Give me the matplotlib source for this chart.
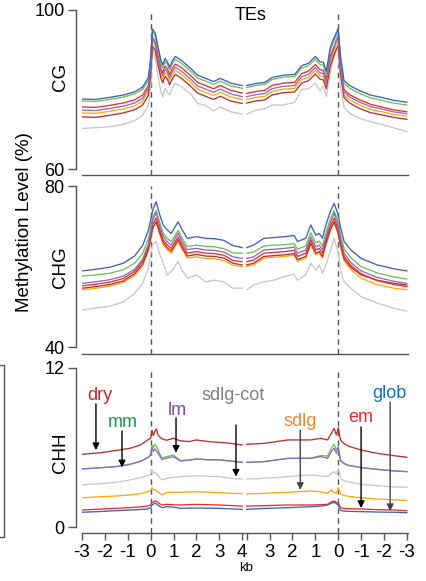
import numpy as np
import matplotlib.pyplot as plt
from matplotlib.lines import Line2D

plt.rcParams['font.family'] = ['Liberation Sans', 'DejaVu Sans']

# x positions: left block = upstream flank (-3..0) + TE body from 5' end (0..4),
# right block (shifted) = TE body towards 3' end (4..0) + downstream flank (0..-3)
cg_pos_a = [-3, -2.4, -1.8, -1.2, -0.7, -0.35, -0.1, 0.0, 0.08, 0.2, 0.35, 0.45, 0.53,
            0.63, 0.73, 0.83, 0.95, 1.08, 1.35, 1.75, 2.05, 2.4, 2.75, 3.05, 3.5, 4.0]
cg_pos_b = [4.2, 4.6, 5.0, 5.3, 5.8, 6.3, 6.6, 6.9, 7.2, 7.4, 7.55, 7.68, 7.85, 8.0,
            8.12, 8.2, 8.3, 8.45, 8.7, 9.1, 9.6, 10.1, 10.6, 11.2]

cg_glob = [77.6, 77.5, 78.0, 78.6, 79.4, 80.6, 83.0, 87.8, 95.2, 94.2, 90.0, 87.3, 86.2,
           87.8, 87.0, 85.6, 87.2, 88.3, 87.3, 85.3, 83.6, 82.8, 82.0, 82.8, 81.6, 81.0,
           81.0, 81.5, 81.8, 83.0, 83.6, 83.8, 86.0, 86.6, 88.3, 87.0, 86.8, 84.6, 90.5,
           92.8, 94.3, 95.4, 88.5, 82.3, 81.0, 79.8, 78.6, 78.0, 77.3, 76.8]
cg_mm = [77.1, 77.0, 77.5, 78.1, 78.9, 80.0, 82.3, 87.0, 94.6, 93.5, 89.3, 86.5, 85.4,
         87.0, 86.3, 84.9, 86.5, 87.6, 86.6, 84.6, 82.9, 82.1, 81.3, 82.1, 80.9, 80.3,
         80.5, 81.0, 81.3, 82.5, 83.1, 83.3, 85.4, 86.0, 87.6, 86.3, 86.1, 83.9, 89.8,
         92.1, 93.6, 94.7, 87.8, 81.6, 80.3, 79.1, 77.9, 77.3, 76.6, 76.1]
cg_em = [75.6, 75.5, 76.0, 76.6, 77.4, 78.6, 81.0, 85.8, 92.8, 92.0, 88.0, 85.3, 84.2,
         85.9, 85.2, 83.8, 85.3, 86.4, 85.5, 83.5, 81.8, 81.0, 80.2, 81.0, 79.8, 79.1,
         79.0, 79.5, 79.8, 81.0, 81.6, 81.8, 84.0, 84.6, 86.3, 85.0, 84.8, 82.6, 88.3,
         90.6, 92.2, 93.0, 86.3, 80.0, 78.7, 77.5, 76.3, 75.6, 74.9, 74.4]
cg_lm = [74.8, 74.7, 75.2, 75.8, 76.6, 77.8, 80.3, 85.5, 93.3, 91.8, 87.4, 84.6, 83.5,
         85.1, 84.4, 83.0, 84.5, 85.6, 84.6, 82.6, 80.9, 80.1, 79.3, 80.1, 78.9, 78.2,
         78.2, 78.7, 79.0, 80.2, 80.8, 81.0, 83.2, 83.8, 85.5, 84.2, 84.0, 81.8, 87.7,
         90.2, 92.5, 93.5, 85.6, 79.4, 78.1, 76.9, 75.7, 75.1, 74.4, 73.9]
cg_sdlg = [74.1, 74.0, 74.5, 75.1, 75.9, 77.1, 79.5, 84.6, 92.2, 91.0, 86.6, 83.8, 82.7,
           84.3, 83.6, 82.2, 83.7, 84.8, 83.8, 81.8, 80.1, 79.3, 78.5, 79.3, 78.1, 77.5,
           77.5, 78.0, 78.3, 79.5, 80.1, 80.3, 82.5, 83.1, 84.8, 83.5, 83.3, 81.1, 87.0,
           89.5, 91.3, 92.2, 84.8, 78.6, 77.4, 76.2, 75.0, 74.4, 73.8, 73.3]
cg_dry = [73.1, 73.0, 73.5, 74.1, 74.9, 76.1, 78.5, 83.5, 91.0, 89.8, 85.5, 82.8, 81.7,
          83.3, 82.6, 81.2, 82.7, 83.8, 82.8, 80.8, 79.1, 78.3, 77.5, 78.3, 77.1, 76.5,
          76.6, 77.1, 77.4, 78.6, 79.2, 79.4, 81.6, 82.2, 83.9, 82.6, 82.4, 80.2, 85.8,
          88.4, 90.2, 91.0, 84.0, 78.0, 76.6, 75.3, 74.2, 73.6, 73.0, 72.5]
cg_cot = [70.2, 70.4, 70.6, 71.2, 72.2, 73.5, 76.0, 80.0, 90.5, 88.0, 82.5, 79.5, 78.2,
          80.3, 79.4, 78.6, 80.5, 81.6, 80.7, 78.9, 76.5, 76.0, 74.6, 75.6, 74.4, 73.8,
          73.8, 74.8, 75.2, 76.1, 76.1, 76.8, 80.0, 80.2, 81.6, 79.6, 80.9, 78.2, 84.0,
          88.0, 89.8, 90.4, 80.5, 75.5, 74.0, 72.8, 71.9, 71.2, 70.4, 69.4]

chg_pos_a = [-3, -2.4, -1.8, -1.2, -0.7, -0.35, -0.1, 0.0, 0.09, 0.24, 0.4, 0.55, 0.72,
             0.9, 1.2, 1.38, 1.6, 2.0, 2.4, 2.8, 3.2, 3.6, 4.0]
chg_pos_b = [4.2, 4.5, 4.95, 5.4, 5.85, 6.27, 6.42, 6.78, 7.0, 7.22, 7.37, 7.51, 7.66,
             7.85, 8.02, 8.2, 8.31, 8.46, 8.75, 9.2, 9.9, 10.65, 11.2]

chg_glob = [58.9, 59.3, 59.8, 60.8, 62.6, 65.2, 69.0, 71.5, 74.0, 76.1, 72.8, 70.3, 69.1,
            68.2, 71.1, 69.1, 67.0, 67.4, 67.0, 66.9, 66.5, 65.2, 64.7,
            64.7, 65.3, 67.0, 67.2, 67.4, 67.7, 66.2, 67.0, 70.3, 67.8, 68.2, 67.0, 70.3,
            73.6, 75.7, 72.8, 69.5, 66.2, 64.1, 62.0, 60.4, 59.4, 58.9]
chg_mm = [57.6, 57.9, 58.3, 59.2, 60.8, 63.2, 66.9, 69.6, 72.3, 74.0, 70.9, 68.3, 67.0,
          66.2, 69.0, 67.0, 65.0, 65.3, 65.0, 64.9, 64.4, 63.4, 63.3,
          63.3, 63.6, 65.1, 65.3, 65.4, 65.7, 64.3, 65.1, 68.4, 65.9, 66.3, 65.1, 68.3,
          71.8, 73.9, 71.0, 67.7, 64.4, 62.2, 60.0, 58.4, 57.4, 56.9]
chg_lm = [55.8, 56.2, 56.7, 57.6, 59.3, 61.8, 65.5, 68.5, 71.5, 73.4, 70.0, 67.5, 66.2,
          65.3, 68.3, 66.2, 64.2, 64.5, 64.1, 64.0, 63.6, 62.4, 62.0,
          62.0, 62.4, 64.1, 64.3, 64.5, 64.8, 63.3, 64.1, 67.4, 64.9, 65.3, 64.1, 67.3,
          70.8, 73.2, 70.0, 66.6, 63.3, 61.0, 58.9, 57.3, 56.3, 55.8]
chg_em = [55.2, 55.6, 56.1, 57.0, 58.8, 61.3, 65.0, 67.8, 70.5, 72.0, 69.2, 66.6, 65.4,
          64.5, 67.4, 65.4, 63.3, 63.7, 63.3, 63.2, 62.8, 61.5, 61.2,
          61.2, 61.6, 63.3, 63.5, 63.7, 64.0, 62.5, 63.3, 66.6, 64.1, 64.5, 63.3, 66.5,
          69.9, 72.0, 69.1, 65.8, 62.5, 60.3, 58.2, 56.5, 55.5, 55.0]
chg_dry = [54.6, 55.0, 55.5, 56.4, 58.2, 60.6, 64.3, 67.0, 69.6, 71.1, 68.4, 65.9, 64.7,
           63.8, 66.7, 64.7, 62.6, 63.0, 62.6, 62.5, 62.1, 60.8, 60.4,
           60.4, 60.8, 62.5, 62.7, 62.9, 63.2, 61.7, 62.5, 65.8, 63.3, 63.7, 62.5, 65.7,
           69.1, 71.1, 68.3, 65.0, 61.9, 59.8, 57.9, 56.6, 55.8, 55.4]
chg_sdlg = [54.2, 54.6, 55.1, 56.0, 57.8, 60.2, 63.8, 66.6, 69.4, 71.1, 68.0, 65.4, 64.2,
            63.3, 66.2, 64.2, 62.1, 62.4, 62.0, 61.9, 61.5, 60.3, 60.0,
            60.0, 60.4, 62.1, 62.3, 62.5, 62.8, 61.3, 62.1, 65.4, 62.9, 63.3, 62.1, 65.3,
            68.8, 71.0, 68.0, 64.6, 61.4, 59.2, 57.1, 55.5, 54.6, 54.2]
chg_cot = [49.2, 49.7, 50.1, 51.2, 53.3, 55.8, 59.5, 62.9, 65.5, 66.2, 63.0, 60.8, 57.9,
           58.7, 61.2, 59.1, 57.1, 57.9, 56.2, 56.6, 56.2, 54.6, 54.6,
           54.2, 55.4, 56.2, 56.6, 57.5, 58.1, 56.6, 57.9, 60.8, 59.1, 60.4, 58.3, 60.4,
           63.7, 67.0, 63.3, 58.7, 56.2, 54.6, 52.5, 50.9, 49.6, 48.9]

chh_pos_a = [-3, -2.2, -1.5, -0.9, -0.45, -0.15, 0.0, 0.06, 0.12, 0.18, 0.25, 0.32, 0.4,
             0.5, 0.7, 1.0, 1.3, 1.7, 2.0, 2.5, 3.0, 3.5, 4.0]
chh_pos_b = [4.2, 4.95, 6.0, 7.0, 7.45, 7.73, 7.9, 8.02, 8.12, 8.2, 8.3, 8.45, 8.65,
             9.2, 9.9, 10.65, 11.2]

chh_dry = [5.49, 5.60, 5.78, 5.94, 6.19, 6.55, 6.70, 7.30, 6.90, 7.20, 7.40, 6.95, 6.80,
           6.65, 6.55, 6.70, 6.50, 6.45, 6.57, 6.45, 6.39, 6.31, 6.19,
           6.24, 6.31, 6.57, 6.57, 6.69, 6.57, 7.07, 7.45, 6.94, 7.50, 6.57, 6.30, 6.10,
           5.81, 5.56, 5.38, 5.26]
chh_lm = [4.38, 4.47, 4.56, 4.73, 4.95, 5.20, 5.40, 6.00, 5.70, 5.90, 5.75, 5.60, 5.35,
          5.08, 5.20, 5.30, 4.98, 5.05, 5.13, 5.08, 5.06, 4.98, 4.88,
          4.88, 4.93, 5.18, 5.18, 5.31, 5.18, 5.68, 5.94, 5.56, 6.00, 5.00, 4.80, 4.65,
          4.48, 4.35, 4.23, 4.18]
chh_mm = [4.38, 4.47, 4.56, 4.73, 4.95, 5.20, 5.45, 6.20, 6.00, 6.25, 6.10, 5.85, 5.50,
          5.20, 5.32, 5.42, 5.02, 5.05, 5.13, 5.08, 5.06, 4.98, 4.88,
          4.88, 4.93, 5.18, 5.20, 5.40, 5.35, 5.95, 6.24, 5.80, 6.10, 5.05, 4.80, 4.65,
          4.48, 4.35, 4.23, 4.18]
chh_cot = [3.17, 3.27, 3.37, 3.55, 3.72, 3.87, 3.95, 4.30, 4.05, 4.15, 4.00, 3.90, 3.70,
           3.55, 3.67, 3.75, 3.80, 3.83, 3.87, 3.83, 3.80, 3.67, 3.62,
           3.62, 3.67, 3.80, 3.92, 3.85, 3.80, 4.05, 4.18, 4.00, 4.43, 3.67, 3.50, 3.40,
           3.22, 3.12, 3.02, 3.00]
chh_sdlg = [2.21, 2.28, 2.34, 2.42, 2.52, 2.66, 2.75, 2.97, 2.80, 2.85, 2.72, 2.66, 2.55,
            2.42, 2.60, 2.63, 2.62, 2.64, 2.66, 2.63, 2.60, 2.54, 2.52,
            2.49, 2.54, 2.62, 2.72, 2.65, 2.54, 2.79, 2.60, 2.54, 2.97, 2.50, 2.38, 2.32,
            2.21, 2.11, 2.06, 1.99]
chh_em = [1.28, 1.35, 1.41, 1.46, 1.52, 1.58, 1.65, 1.83, 1.90, 1.96, 1.94, 1.85, 1.75,
          1.66, 1.71, 1.68, 1.66, 1.69, 1.71, 1.68, 1.66, 1.62, 1.58,
          1.58, 1.61, 1.66, 1.66, 1.69, 1.71, 1.90, 1.96, 1.85, 1.79, 1.45, 1.40, 1.38,
          1.36, 1.31, 1.28, 1.23]
chh_glob = [1.11, 1.17, 1.23, 1.28, 1.32, 1.36, 1.45, 1.66, 1.72, 1.79, 1.75, 1.65, 1.55,
            1.46, 1.53, 1.50, 1.41, 1.42, 1.43, 1.42, 1.41, 1.37, 1.33,
            1.33, 1.40, 1.46, 1.53, 1.58, 1.66, 1.80, 1.86, 1.75, 1.66, 1.25, 1.20, 1.18,
            1.16, 1.13, 1.11, 1.08]

tick_pos = [-3, -2, -1, 0, 1, 2, 3, 4, 4.2, 5.2, 6.2, 7.2, 8.2, 9.2, 10.2, 11.2]
tick_lab = ['-3', '-2', '-1', '0', '1', '2', '3', '4', '', '3', '2', '1', '0', '-1', '-2', '-3']
tss_pos = [0, 8.2]

line_col = {'cot': '#c8c8c8', 'sdlg': '#ffa812', 'dry': '#b8312f', 'em': '#e8302e',
            'mm': '#6fc155', 'lm': '#8e6cc0', 'glob': '#3f62b4'}
order = ['cot', 'sdlg', 'dry', 'em', 'mm', 'lm', 'glob']

panels = [
    ('CG', cg_pos_a, cg_pos_b, {'glob': cg_glob, 'mm': cg_mm, 'em': cg_em, 'lm': cg_lm,
                                'sdlg': cg_sdlg, 'dry': cg_dry, 'cot': cg_cot}, (60, 100)),
    ('CHG', chg_pos_a, chg_pos_b, {'glob': chg_glob, 'mm': chg_mm, 'em': chg_em, 'lm': chg_lm,
                                   'sdlg': chg_sdlg, 'dry': chg_dry, 'cot': chg_cot}, (40, 80)),
    ('CHH', chh_pos_a, chh_pos_b, {'glob': chh_glob, 'mm': chh_mm, 'em': chh_em, 'lm': chh_lm,
                                   'sdlg': chh_sdlg, 'dry': chh_dry, 'cot': chh_cot}, (0, 12)),
]

W, H = 426, 581
fig = plt.figure(figsize=(W / 100, H / 100), dpi=100)

# (top px, bottom px, px below the lowest tick)
boxes = [(10, 175, 6), (186, 354, 7), (368, 533, 6)]
axes = []
for (name, xa, xb, series, (lo, hi)), (top, bot, pad) in zip(panels, boxes):
    ax = fig.add_axes([82 / W, 1 - bot / H, 326 / W, (bot - top) / H])
    n = len(xa)
    for key in order:
        y = series[key]
        ax.plot(xa, y[:n], color=line_col[key], lw=0.95)
        ax.plot(xb, y[n:], color=line_col[key], lw=0.95)
    for t in tss_pos:
        ax.axvline(t, color='#555555', lw=1.0, ls=(0, (4, 3)), zorder=0)
    span = hi - lo
    ax.set_ylim(lo - span * pad / (bot - top - pad), hi)
    ax.set_xlim(-3.0, 11.25)
    for s in ['top', 'right']:
        ax.spines[s].set_visible(False)
    ax.spines['left'].set_position(('outward', 4.5))
    ax.spines['left'].set_bounds(lo, hi)
    for s in ['left', 'bottom']:
        ax.spines[s].set_color('#555555')
        ax.spines[s].set_linewidth(1.0)
    ax.set_yticks([lo, hi])
    ax.tick_params(axis='y', direction='out', length=6, width=1.0, color='#555555',
                   labelsize=13, pad=2)
    ax.tick_params(axis='x', direction='out', length=5, width=1.0, color='#555555',
                   labelsize=13.5, pad=3)
    ax.set_xticks(tick_pos)
    if name == 'CHH':
        ax.set_xticklabels(tick_lab)
    else:
        ax.tick_params(axis='x', length=0, labelbottom=False)
    axes.append(ax)

fig.text(61 / W, 1 - 77 / H, 'CG', rotation=90, ha='center', va='center', fontsize=13.5)
fig.text(61 / W, 1 - 267 / H, 'CHG', rotation=90, ha='center', va='center', fontsize=13.5)
fig.text(61 / W, 1 - 453 / H, 'CHH', rotation=90, ha='center', va='center', fontsize=13.5)
fig.text(25 / W, 1 - 222 / H, 'Methylation Level (%)', rotation=90, ha='center',
         va='center', fontsize=13.5)
fig.text(251 / W, 1 - 15 / H, 'TEs', ha='center', va='center', fontsize=13)
fig.text(246 / W, 1 - 568 / H, 'kb', ha='center', va='center', fontsize=9.5)

# bracket at the left edge
fig.add_artist(Line2D([0, 3.5 / W, 3.5 / W, 0], [1 - 365 / H, 1 - 365 / H, 1 - 537 / H, 1 - 537 / H],
                      color='#555555', lw=1.0))

ax = axes[2]
labels = [
    ('dry', '#c0282d', -2.21, 9.96, -2.39, 9.3, 5.8, 'k'),
    ('mm', '#1e9950', -1.21, 7.85, -1.25, 7.25, 4.5, 'k'),
    ('lm', '#7e4ea3', 1.16, 8.83, 1.11, 8.23, 5.6, 'k'),
    ('sdlg-cot', '#808080', 3.6, 9.96, 3.73, 7.7, 3.8, 'k'),
    ('sdlg', '#f58233', 6.54, 8.0, 6.54, 7.32, 2.8, '#444444'),
    ('em', '#ee2a2e', 9.2, 8.23, 9.2, 7.55, 1.43, 'k'),
    ('glob', '#1a6fba', 10.43, 10.1, 10.47, 9.43, 1.2, '#444444'),
]
for txt, col, tx, ty, ax_x, y0, y1, acol in labels:
    ax.text(tx, ty, txt, color=col, fontsize=13, ha='center', va='center')
    ax.annotate('', xy=(ax_x, y1), xytext=(ax_x, y0),
                arrowprops=dict(arrowstyle='-|>', color=acol, lw=1.0, mutation_scale=10,
                                shrinkA=0, shrinkB=0))

fig.savefig('out.png', dpi=100)
